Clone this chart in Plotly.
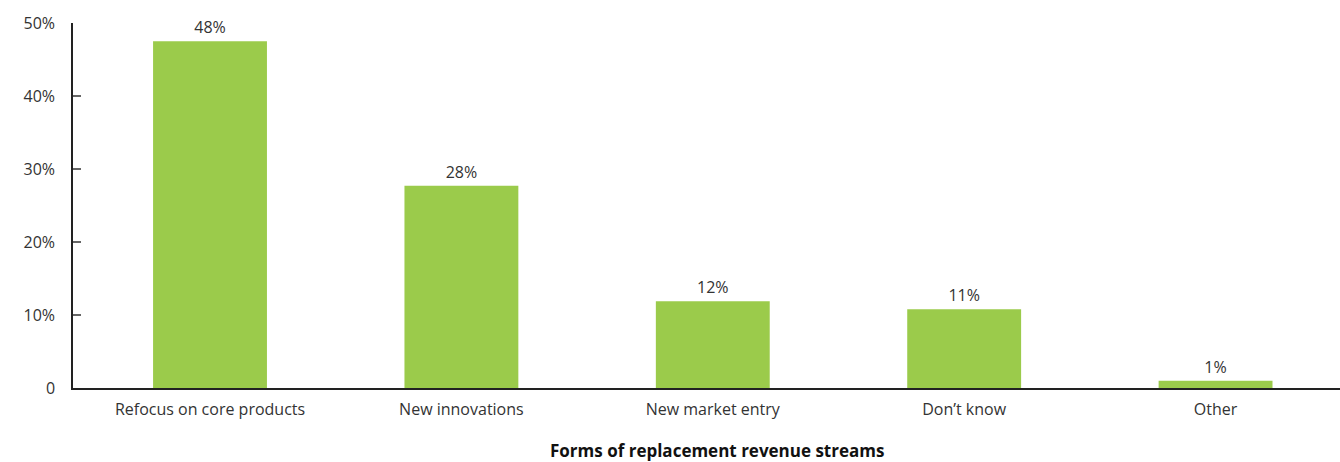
import plotly.graph_objects as go

categories = ["Refocus on core products", "New innovations", "New market entry", "Don\u2019t know", "Other"]
values = [47.5, 27.7, 11.9, 10.8, 1.0]
labels = ["48%", "28%", "12%", "11%", "1%"]
y_ticks = [0, 10, 20, 30, 40, 50]
y_tick_text = ["0", "10%", "20%", "30%", "40%", "50%"]
x_title = "Forms of replacement revenue streams"

font_family = "Open Sans, Noto Sans, sans-serif"
txt = "#333333"

fig = go.Figure(go.Bar(
    x=list(range(len(categories))), y=values,
    text=labels, textposition="outside", cliponaxis=False,
    textfont=dict(family=font_family, size=16, color=txt),
    marker=dict(color="#9BCB4B", line=dict(width=0)),
    width=0.453,
))

fig.update_layout(
    width=1340, height=462,
    margin=dict(l=73, r=0, t=23, b=74),
    paper_bgcolor="white", plot_bgcolor="white",
    showlegend=False,
    font=dict(family=font_family, size=16, color=txt),
)
fig.update_xaxes(
    range=[-0.545, 4.495],
    tickmode="array", tickvals=list(range(len(categories))), ticktext=categories,
    showline=True, linecolor="#222222", linewidth=1.5,
    ticks="outside", ticklen=0, tickfont=dict(size=16, color=txt),
    showgrid=False, zeroline=False, ticklabelstandoff=6,
)
fig.update_yaxes(
    range=[0, 50],
    tickmode="array", tickvals=y_ticks, ticktext=y_tick_text,
    showline=True, linecolor="#222222", linewidth=1.5,
    ticks="inside", ticklen=8, tickcolor="#666666", tickwidth=1.5,
    tickfont=dict(size=16, color=txt),
    showgrid=False, zeroline=False, ticklabelstandoff=13,
)
fig.add_annotation(
    text="<b>" + x_title + "</b>", xref="paper", yref="paper",
    x=(717 - 73) / (1340 - 73), y=-(450 - 388) / (388 - 23),
    xanchor="center", yanchor="middle", showarrow=False,
    font=dict(family=font_family, size=17, color="#111111"),
)
fig.write_html("out.html")
